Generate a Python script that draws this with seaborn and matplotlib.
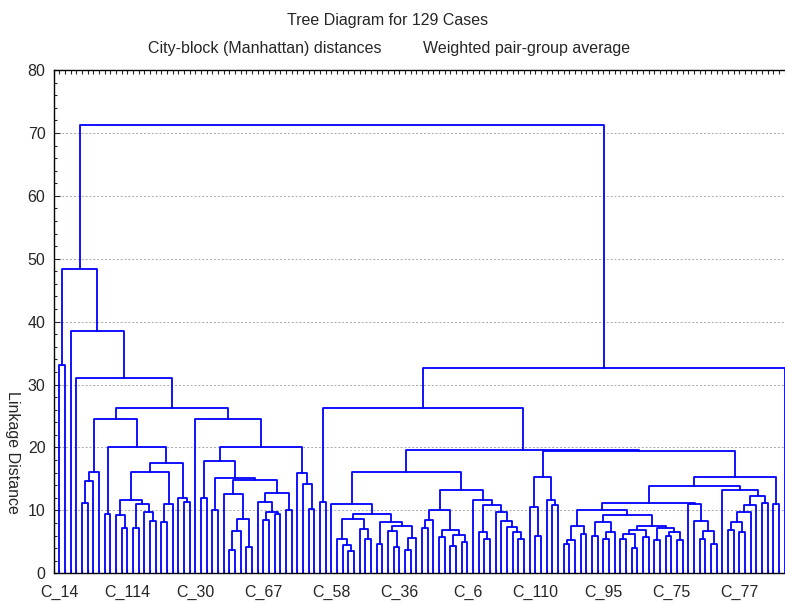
"""
Tree diagram (dendrogram) for 129 cases
- merge heights read off the Statistica picture
- tree is drawn leaf by leaf from nested (height, left, right) tuples
"""

import matplotlib
matplotlib.use('Agg')
import matplotlib.pyplot as plt
import pandas as pd
import seaborn as sns
from matplotlib.ticker import FixedLocator, MultipleLocator

o = None  # one case (leaf)

# --- left branch, cases 0-45 ---
a5a = (16.1, (14.7, (11.2, o, o), o), o)                                   # 4-7
a5b_left = (11.7, (9.2, o, (7.2, o, o)),
            (11.0, (7.2, o, o), (9.8, o, (8.3, o, o))))                    # 10-17
a5b_mid = (11.0, (8.1, o, o), o)                                           # 18-20
a5b_right = (12.0, o, (11.3, o, o))                                        # 21-23
a5b = (20.0, (9.5, o, o), (17.6, (16.1, a5b_left, a5b_mid), a5b_right))   # 8-23
a5 = (24.6, a5a, a5b)

y_left = (12.6, o, (8.6, (6.7, (3.7, o, o), o), (4.2, o, o)))              # 29-34
y_right = (12.8, (11.3, o, (9.8, (8.5, o, o), (9.4, o, o))), (10.0, o, o)) # 35-41
a6r_left = (17.9, (12.0, o, o), (15.1, (10.0, o, o), (14.9, y_left, y_right)))
a6r_right = (15.9, o, (14.2, o, (10.2, o, o)))                             # 42-45
a6 = (24.6, o, (20.0, a6r_left, a6r_right))                                # 24-45

branch_a = (48.3, (33.1, o, o), (38.5, o, (31.1, o, (26.3, a5, a6))))

# --- right branch, cases 46-128 ---
rl2 = (9.4, (8.7, (5.4, o, (4.5, o, (3.6, o, o))), (7.0, o, (5.4, o, o))),
       (8.1, (4.7, o, o), (7.5, (6.7, o, (4.2, o, o)), (5.6, (3.7, o, o), o))))
rr_left = (10.0, (8.5, (7.2, o, o), o),
           (6.9, (5.8, o, o), (6.1, (4.4, o, o), (4.9, o, o))))            # 64-72
rr_right = (11.7, o, (10.8, (6.5, o, (5.5, o, o)),
                     (9.8, o, (8.3, o, (7.4, o, (6.6, o, (5.4, o, o)))))))  # 73-82
branch_r = (16.1, (11.0, o, rl2), (13.2, rr_left, rr_right))               # 48-82

q_left = (15.3, (10.5, o, (6.0, o, o)), (11.7, o, (10.8, o, o)))           # 83-88
k_left_a = (7.5, (5.3, (4.7, o, o), o), (6.2, o, o))                       # 89-93
k_left_b = (8.2, (6.0, o, o), (6.5, (5.5, o, o), o))                       # 94-98
k_left_c = (7.6, (6.9, (6.2, (5.5, o, o), (4.0, o, o)), (5.8, o, o)),
            (7.2, (5.3, o, o), (6.6, (5.9, o, o), (5.3, o, o))))           # 99-110
k_left = (10.0, k_left_a, (9.2, k_left_b, k_left_c))
k_right = (11.0, o, (8.3, o, (6.8, (5.5, o, o), (4.7, o, o))))             # 111-116
g = (13.2, o, (12.3, (10.8, (9.7, (8.1, (6.9, o, o), (6.5, o, o)), o), o),
              (11.1, o, o)))                                               # 117-125
q_right = (15.3, (13.8, (11.2, k_left, k_right), g), (11.0, o, o))         # 89-127

branch_b = (32.6, (26.2, (11.4, o, o), (19.6, branch_r, (19.4, q_left, q_right))), o)

tree = (71.3, branch_a, branch_b)

# every 12th case gets a label
leaf_labels = ['C_14', 'C_114', 'C_30', 'C_67', 'C_58', 'C_36',
               'C_6', 'C_110', 'C_95', 'C_75', 'C_77']
label_step = 12

title = 'Tree Diagram for 129 Cases'
subtitle_left = 'City-block (Manhattan) distances'
subtitle_right = 'Weighted pair-group average'


def layout(node, segs, pos):
    """Return (x, h) of node; leaves take the next free slot"""
    if node is None:
        x = pos[0]
        pos[0] += 1
        return x, 0.0
    h, left, right = node
    xl, hl = layout(left, segs, pos)
    xr, hr = layout(right, segs, pos)
    segs.append([(xl, hl), (xl, h), (xr, h), (xr, hr)])
    return (xl + xr) / 2, h


segs = []
pos = [0]
layout(tree, segs, pos)
n_leaves = pos[0]

rows = []
for i, s in enumerate(segs):
    for x, y in s:
        rows.append({'x': x, 'y': y, 'seg': i})
df = pd.DataFrame(rows)

sns.set_style('ticks')
plt.rcParams['font.family'] = ['Liberation Sans', 'DejaVu Sans']
plt.rcParams['font.size'] = 11.5

fig = plt.figure(figsize=(7.85, 6.04), dpi=100)
ax = fig.add_axes([0.0685, 0.0508, 0.9385, 0.8333])
ax.set_axisbelow(True)
ax.yaxis.grid(True, which='major', color='#a8a8a8', linestyle=(0, (2, 2)), lw=0.7)

sns.lineplot(data=df, x='x', y='y', units='seg', estimator=None, sort=False,
             color='#0000ff', lw=1.3, ax=ax, legend=False)

ax.set_xlim(-1, n_leaves)
ax.set_ylim(0, 80)
ax.set_xlabel('')
ax.set_ylabel('')

label_pos = [i * label_step for i in range(len(leaf_labels))]
ax.xaxis.set_major_locator(FixedLocator(label_pos))
ax.set_xticklabels(leaf_labels)
ax.xaxis.set_minor_locator(MultipleLocator(1))
ax.tick_params(axis='x', which='both', direction='in', top=True, bottom=True,
               length=3, width=0.8, pad=8, labelsize=11.5)

ax.yaxis.set_major_locator(MultipleLocator(10))
ax.yaxis.set_minor_locator(MultipleLocator(2))
ax.tick_params(axis='y', which='major', direction='in', length=4, width=0.8,
               pad=6, labelsize=11.5)
ax.tick_params(axis='y', which='minor', direction='in', length=2.5, width=0.8)

for sp in ax.spines.values():
    sp.set_visible(True)
    sp.set_color('black')
    sp.set_linewidth(1.0)

W, H = 785, 604
fig.text(388 / W, 1 - 21 / H, title, ha='center', va='center', fontsize=11.5)
fig.text(148 / W, 1 - 49 / H, subtitle_left, ha='left', va='center', fontsize=11.5)
fig.text(423 / W, 1 - 49 / H, subtitle_right, ha='left', va='center', fontsize=11.5)
fig.text(12 / W, 1 - 452 / H, 'Linkage Distance', rotation=-90,
         ha='center', va='center', fontsize=11.5)

fig.savefig('out.png', dpi=100)
plt.close(fig)
